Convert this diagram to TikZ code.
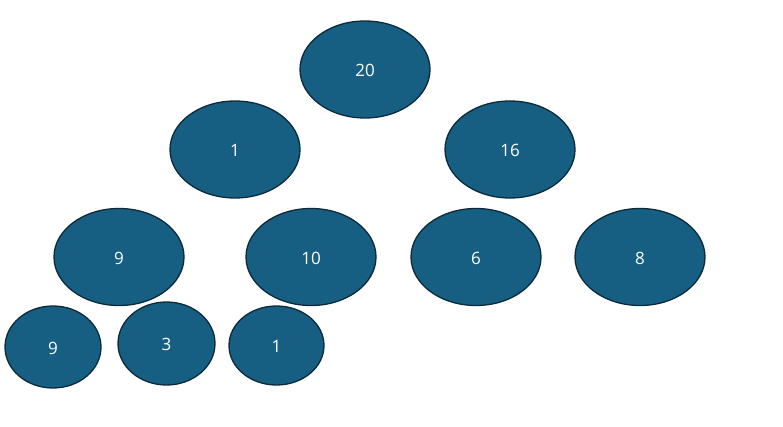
\documentclass[tikz,border=0pt]{standalone}
\usepackage{fontspec}
\setmainfont{Open Sans}
\definecolor{nodefill}{HTML}{175F82}
\definecolor{nodeline}{HTML}{0B2A3A}
\begin{document}
\begin{tikzpicture}[x=1pt,y=-1pt,
  ell/.style={draw=nodeline,fill=nodefill,line width=1.3pt},
  lbl/.style={text=white,font=\fontsize{17}{20}\selectfont}]
\useasboundingbox (0,0) rectangle (783,427);
\newcommand{\ellnode}[6]{%
  \fill[ell] (#2,#3) ellipse [x radius=#4, y radius=#5];
  \node[lbl] (#1) at (#2,#3+1) {#6};}
\ellnode{n20}{365}{69.5}{65}{48.5}{20}
\ellnode{n1}{235}{149.5}{65}{48.5}{1}
\ellnode{n16}{510}{149.5}{65}{48.5}{16}
\ellnode{n9}{119}{257}{65}{48.5}{9}
\ellnode{n10}{311}{257}{65}{48.5}{10}
\ellnode{n6}{476}{257}{65}{48.5}{6}
\ellnode{n8}{640}{257}{65}{48.5}{8}
\ellnode{m9}{53}{347}{48}{41}{9}
\ellnode{m3}{166.5}{343.5}{48.5}{41.5}{3}
\ellnode{m1}{276.5}{345.5}{47.5}{39.5}{1}
\end{tikzpicture}
\end{document}
